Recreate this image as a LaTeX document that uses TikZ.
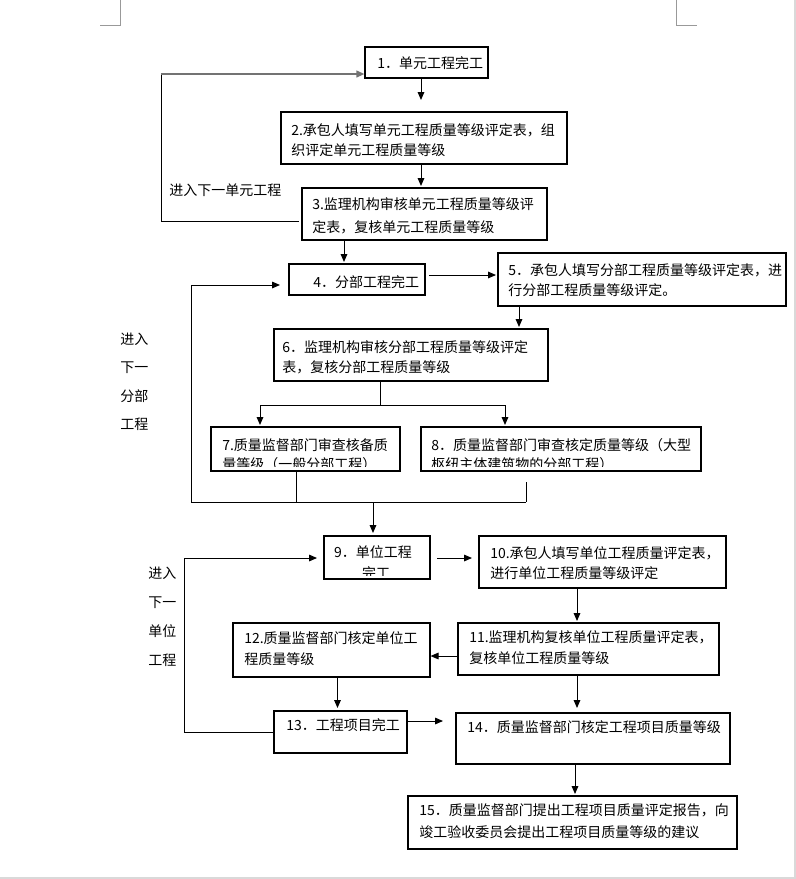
\documentclass[tikz,border=0pt]{standalone}
\usepackage{fontspec}
\setmainfont{Noto Sans CJK SC}
\usetikzlibrary{arrows.meta,fit}
\begin{document}
\begin{tikzpicture}[x=0.75pt,y=-0.75pt,
  box/.style={draw=black,line width=0.8pt,inner sep=0pt},
  txt/.style={anchor=base west,inner sep=0pt,font=\fontsize{10.5pt}{12pt}\selectfont},
  ctxt/.style={txt,anchor=base},
  ln/.style={draw=black,line width=0.75pt},
  arr/.style={ln,-{Triangle[length=6pt,width=5pt]}},
  grayln/.style={draw=black!55,line width=1.3pt},
  cornermark/.style={draw=black!40,line width=0.75pt},
  winedge/.style={draw=black!15,line width=1.5pt}]
\useasboundingbox (0,0) rectangle (796,879);

% page corner marks and window edges
\draw[cornermark] (120,0) -- (120,25) -- (100,25);
\draw[cornermark] (676,0) -- (676,25) -- (697,25);
\draw[winedge] (795.2,0) -- (795.2,879);
\draw[winedge] (0,878) -- (796,878);

% boxes
\node[box,fit={(365,47)(488,78)}] (b1) {};
\node[box,fit={(281,112)(567,164)}] (b2) {};
\node[box,fit={(302,188)(547,240)}] (b3) {};
\node[box,fit={(289,264)(425,295)}] (b4) {};
\node[box,fit={(498,253)(786,306)}] (b5) {};
\node[box,fit={(274,329)(548,381)}] (b6) {};
\node[box,fit={(211,427)(400,471)}] (b7) {};
\node[box,fit={(421,427)(701,471)}] (b8) {};
\node[box,fit={(324,536)(430,579)}] (b9) {};
\node[box,fit={(479,536)(726,588)}] (b10) {};
\node[box,fit={(458,623)(719,675)}] (b11) {};
\node[box,fit={(233,623)(430,677)}] (b12) {};
\node[box,fit={(274,711)(407,753)}] (b13) {};
\node[box,fit={(456,713)(730,764)}] (b14) {};
\node[box,fit={(408,796)(737,849)}] (b15) {};

% texts
\node[txt] (t1) at (377,68) {1．单元工程完工};
\node[txt] (t2a) at (291,135) {2.承包人填写单元工程质量等级评定表，组};
\node[txt] (t2b) at (291,155) {织评定单元工程质量等级};
\node[txt] (t3a) at (312,209) {3.监理机构审核单元工程质量等级评};
\node[txt] (t3b) at (312,232) {定表，复核单元工程质量等级};
\node[txt] (t4) at (313,287) {4．分部工程完工};
\node[txt] (t5a) at (508,275) {5．承包人填写分部工程质量等级评定表，进};
\node[txt] (t5b) at (508,295) {行分部工程质量等级评定。};
\node[txt] (t6a) at (282,352) {6．监理机构审核分部工程质量等级评定};
\node[txt] (t6b) at (282,372) {表，复核分部工程质量等级};
\begin{scope}
\clip (211,427) rectangle (400,466);
\node[txt] (t7a) at (222,450) {7.质量监督部门审查核备质};
\node[txt] (t7b) at (222,469.5) {量等级（一般分部工程）};
\end{scope}
\begin{scope}
\clip (421,427) rectangle (701,466);
\node[txt] (t8a) at (431,450) {8．质量监督部门审查核定质量等级（大型};
\node[txt] (t8b) at (431,469.5) {枢纽主体建筑物的分部工程）};
\end{scope}
\begin{scope}
\clip (324,536) rectangle (430,575);
\node[ctxt] (t9a) at (373,557) {9．单位工程};
\node[ctxt] (t9b) at (376,578) {完工};
\end{scope}
\node[txt] (t10a) at (490,558) {10.承包人填写单位工程质量评定表，};
\node[txt] (t10b) at (490,578) {进行单位工程质量等级评定};
\node[txt] (t11a) at (469,642) {11.监理机构复核单位工程质量评定表，};
\node[txt] (t11b) at (469,663) {复核单位工程质量等级};
\node[txt] (t12a) at (244,643) {12.质量监督部门核定单位工};
\node[txt] (t12b) at (244,664) {程质量等级};
\node[txt] (t13) at (286,730) {13．工程项目完工};
\node[txt] (t14) at (467,732) {14．质量监督部门核定工程项目质量等级};
\node[txt] (t15a) at (419,815) {15．质量监督部门提出工程项目质量评定报告，向};
\node[txt] (t15b) at (419,837) {竣工验收委员会提出工程项目质量等级的建议};

% loop labels
\node[txt] (la) at (169,195) {进入下一单元工程};
\node[txt] (lb1) at (120,344) {进入};
\node[txt] (lb2) at (120,372) {下一};
\node[txt] (lb3) at (120,401) {分部};
\node[txt] (lb4) at (120,429) {工程};
\node[txt] (lc1) at (148,578) {进入};
\node[txt] (lc2) at (148,607) {下一};
\node[txt] (lc3) at (148,636) {单位};
\node[txt] (lc4) at (148,665) {工程};

% connector points
\coordinate (c1) at (421,100);
\coordinate (c2) at (421,186);
\coordinate (c3) at (344,262);
\coordinate (c4s) at (429,275);
\coordinate (c4) at (496,275);
\coordinate (c5) at (519,327);
\coordinate (l1a) at (299,221);
\coordinate (l1b) at (161,221);
\coordinate (l1c) at (161,74);
\coordinate (s0) at (380,405);
\coordinate (s7) at (260,405);
\coordinate (s8) at (505,405);
\coordinate (e7) at (260,425);
\coordinate (e8) at (505,425);
\coordinate (j7) at (296,502);
\coordinate (k8) at (526,482);
\coordinate (j8) at (526,502);
\coordinate (j0) at (191,502);
\coordinate (j4) at (191,285);
\coordinate (e4) at (280,285);
\coordinate (j9) at (373,502);
\coordinate (e9) at (373,533);
\coordinate (c9s) at (437,558);
\coordinate (c9) at (472,558);
\coordinate (c10) at (577,621);
\coordinate (y11) at (0,656);
\coordinate (c12) at (337.5,708);
\coordinate (c11) at (577,708);
\coordinate (y13) at (0,721);
\coordinate (c13) at (443,721);
\coordinate (c14) at (575,794);
\coordinate (m1) at (0,732);
\coordinate (m2) at (184,732);
\coordinate (m3) at (184,558);
\coordinate (m4) at (317,558);

% connectors
\draw[arr] (b1.south -| c1) -- (c1);
\draw[arr] (b2.south -| c2) -- (c2);
\draw[arr] (b3.south -| c3) -- (c3);
\draw[arr] (c4s) -- (c4);
\draw[arr] (b5.south -| c5) -- (c5);
\draw[ln] (l1a) -- (l1b) -- (l1c);
\draw[grayln,-{Triangle[length=6pt,width=5pt]}] (l1c) -- (b1.west |- l1c);
\draw[ln] (b6.south -| s0) -- (s0);
\draw[ln] (s7) -- (s8);
\draw[arr] (s7) -- (e7);
\draw[arr] (s8) -- (e8);
\draw[ln] (b7.south -| j7) -- (j7);
\draw[ln] (k8) -- (j8);
\draw[ln] (j0) -- (j8);
\draw[arr] (j0) -- (j4) -- (e4);
\draw[arr] (j9) -- (e9);
\draw[arr] (c9s) -- (c9);
\draw[arr] (b10.south -| c10) -- (c10);
\draw[arr] (b11.west |- y11) -- (b12.east |- y11);
\draw[arr] (b12.south -| c12) -- (c12);
\draw[arr] (b11.south -| c11) -- (c11);
\draw[arr] (b13.east |- y13) -- (c13);
\draw[arr] (b14.south -| c14) -- (c14);
\draw[arr] (b13.west |- m1) -- (m2) -- (m3) -- (m4);
\end{tikzpicture}
\end{document}
